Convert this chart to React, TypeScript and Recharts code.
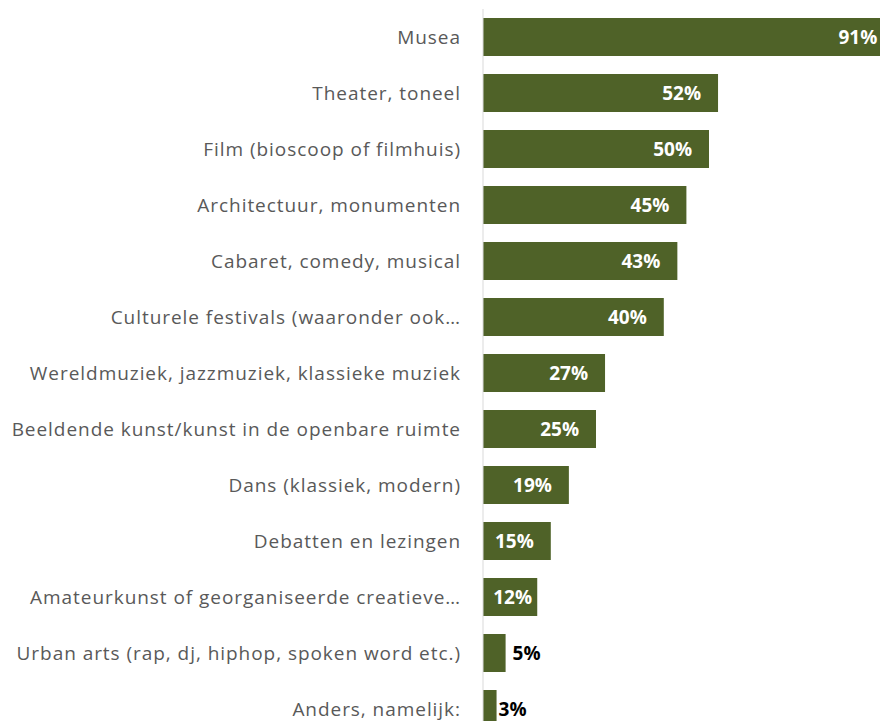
import React from "react";
import { BarChart, Bar, XAxis, YAxis, LabelList } from "recharts";

const categories = [
  "Musea",
  "Theater, toneel",
  "Film (bioscoop of filmhuis)",
  "Architectuur, monumenten",
  "Cabaret, comedy, musical",
  "Culturele festivals (waaronder ook…",
  "Wereldmuziek, jazzmuziek, klassieke muziek",
  "Beeldende kunst/kunst in de openbare ruimte",
  "Dans (klassiek, modern)",
  "Debatten en lezingen",
  "Amateurkunst of georganiseerde creatieve…",
  "Urban arts (rap, dj, hiphop, spoken word etc.)",
  "Anders, namelijk:",
];
const values = [91, 52, 50, 45, 43, 40, 27, 25, 19, 15, 12, 5, 3];

const data = categories.map((name, i) => ({ name, value: values[i] }));

const FONT = "'Open Sans', sans-serif";

const renderLabel = (props: any) => {
  const { x, y, width, height, value } = props;
  const cy = y + height / 2;
  if (value < 10) {
    return (
      <text
        x={x + width + (value < 4 ? 2 : 7)}
        y={cy}
        dy="0.35em"
        textAnchor="start"
        fill="#000000"
        fontWeight="bold"
        fontSize={19}
        fontFamily={FONT}
      >
        {value}%
      </text>
    );
  }
  const endX = Math.max(x + width - 17, x + 49);
  return (
    <text
      x={endX}
      y={cy}
      dy="0.35em"
      textAnchor="end"
      fill="#ffffff"
      fontWeight="bold"
      fontSize={19}
      fontFamily={FONT}
    >
      {value}%
    </text>
  );
};

export default function App() {
  return (
    <div
      style={{
        position: "fixed",
        left: 0,
        top: 0,
        width: 880,
        height: 721,
        overflow: "hidden",
        background: "#ffffff",
      }}
    >
      <BarChart
        width={935}
        height={740}
        data={data}
        layout="vertical"
        margin={{ top: 9, right: 0, bottom: 3, left: 0 }}
        barSize={38}
      >
        <XAxis type="number" domain={[0, 100]} hide />
        <YAxis
          type="category"
          dataKey="name"
          width={483}
          axisLine={{ stroke: "#d9d9d9", strokeWidth: 1 }}
          tickLine={false}
          tickSize={0}
          tickMargin={22}
          interval={0}
          tick={{ fill: "#595959", fontSize: 19, fontFamily: FONT, letterSpacing: 0.95 }}
        />
        <Bar dataKey="value" fill="#4f6228" isAnimationActive={false}>
          <LabelList dataKey="value" content={renderLabel} />
        </Bar>
      </BarChart>
    </div>
  );
}
